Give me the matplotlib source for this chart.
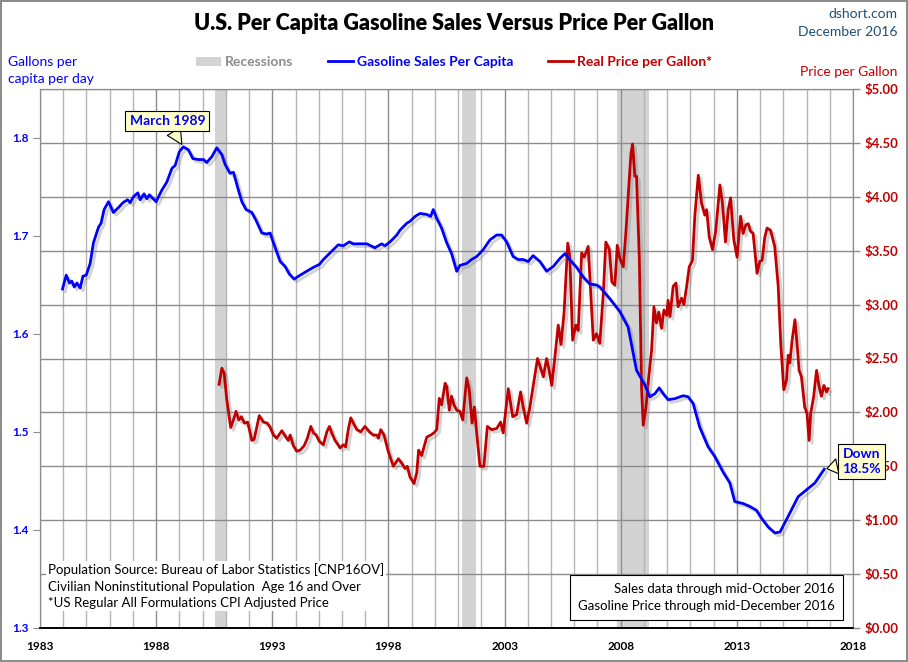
import matplotlib
matplotlib.use("Agg")
import matplotlib.pyplot as plt
import matplotlib.patheffects as pe
from matplotlib.ticker import MultipleLocator, FixedLocator, FuncFormatter

plt.rcParams['font.family'] = ['Lato', 'DejaVu Sans']

# gasoline sales per capita (gallons per day)
sales_years = [1983.97, 1984.13, 1984.27, 1984.37, 1984.48, 1984.59, 1984.73, 1984.85, 1984.99,
               1985.16, 1985.30, 1985.52, 1985.63, 1985.76, 1985.95, 1986.16, 1986.38, 1986.57,
               1986.77, 1986.88, 1987.02, 1987.21, 1987.31, 1987.48, 1987.60, 1987.71, 1988.00,
               1988.25, 1988.46, 1988.68, 1988.82, 1989.00, 1989.17, 1989.39, 1989.58, 1989.82,
               1990.04, 1990.18, 1990.40, 1990.61, 1990.83, 1990.97, 1991.18, 1991.33, 1991.54,
               1991.69, 1991.87, 1992.12, 1992.30, 1992.55, 1992.76, 1992.91, 1993.05, 1993.34,
               1993.55, 1993.74, 1993.94, 1994.20, 1994.48, 1994.77, 1995.03, 1995.20, 1995.63,
               1995.84, 1996.06, 1996.32, 1996.49, 1996.78, 1997.07, 1997.42, 1997.71, 1997.85,
               1998.07, 1998.36, 1998.50, 1998.79, 1998.93, 1999.15, 1999.36, 1999.65, 1999.82,
               1999.93, 2000.08, 2000.29, 2000.51, 2000.72, 2000.94, 2001.08, 2001.37, 2001.58,
               2001.80, 2002.08, 2002.37, 2002.66, 2002.87, 2003.09, 2003.37, 2003.59, 2003.80,
               2004.02, 2004.23, 2004.52, 2004.81, 2005.10, 2005.38, 2005.60, 2005.80, 2006.10,
               2006.39, 2006.67, 2006.96, 2007.10, 2007.53, 2007.96, 2008.32, 2008.68, 2009.04,
               2009.25, 2009.47, 2009.66, 2009.83, 2010.04, 2010.33, 2010.69, 2010.90, 2011.12,
               2011.40, 2011.76, 2012.05, 2012.41, 2012.70, 2012.91, 2013.27, 2013.56, 2013.85,
               2014.06, 2014.35, 2014.64, 2014.86, 2015.21, 2015.64, 2016.00, 2016.36, 2016.76]
sales = [1.646, 1.660, 1.652, 1.654, 1.648, 1.652, 1.647, 1.659, 1.660,
         1.672, 1.693, 1.709, 1.713, 1.727, 1.735, 1.724, 1.729, 1.734,
         1.737, 1.734, 1.740, 1.744, 1.737, 1.743, 1.738, 1.742, 1.735,
         1.747, 1.755, 1.769, 1.772, 1.786, 1.791, 1.788, 1.779, 1.778,
         1.778, 1.775, 1.781, 1.790, 1.783, 1.773, 1.764, 1.765, 1.747,
         1.735, 1.727, 1.724, 1.716, 1.703, 1.702, 1.703, 1.693, 1.674,
         1.669, 1.661, 1.656, 1.660, 1.664, 1.668, 1.671, 1.676, 1.686,
         1.691, 1.690, 1.694, 1.692, 1.692, 1.692, 1.688, 1.692, 1.690,
         1.694, 1.701, 1.706, 1.713, 1.715, 1.720, 1.723, 1.722, 1.720,
         1.727, 1.718, 1.708, 1.693, 1.682, 1.664, 1.670, 1.672, 1.676,
         1.679, 1.686, 1.696, 1.701, 1.701, 1.694, 1.679, 1.676, 1.676,
         1.674, 1.680, 1.674, 1.664, 1.669, 1.677, 1.682, 1.676, 1.668,
         1.658, 1.651, 1.650, 1.648, 1.636, 1.623, 1.607, 1.563, 1.548,
         1.536, 1.539, 1.545, 1.539, 1.533, 1.534, 1.537, 1.536, 1.529,
         1.505, 1.485, 1.475, 1.459, 1.448, 1.429, 1.427, 1.424, 1.420,
         1.412, 1.403, 1.397, 1.398, 1.414, 1.434, 1.441, 1.448, 1.462]

# real price per gallon ($)
price_years = [1990.71, 1990.83, 1990.93, 1991.04, 1991.21, 1991.33, 1991.44, 1991.56, 1991.67,
               1991.80, 1991.94, 1992.12, 1992.22, 1992.44, 1992.62, 1992.79, 1992.91, 1993.05,
               1993.19, 1993.41, 1993.59, 1993.69, 1993.77, 1993.91, 1994.05, 1994.20, 1994.37,
               1994.51, 1994.66, 1994.77, 1994.89, 1995.03, 1995.20, 1995.35, 1995.46, 1995.56,
               1995.70, 1995.80, 1995.92, 1996.06, 1996.16, 1996.27, 1996.38, 1996.49, 1996.64,
               1996.81, 1996.99, 1997.18, 1997.35, 1997.50, 1997.57, 1997.67, 1997.81, 1997.99,
               1998.21, 1998.43, 1998.57, 1998.71, 1998.81, 1998.93, 1999.10, 1999.22, 1999.30,
               1999.43, 1999.65, 1999.82, 1999.96, 2000.08, 2000.19, 2000.29, 2000.44, 2000.51,
               2000.62, 2000.72, 2000.82, 2000.94, 2001.08, 2001.20, 2001.37, 2001.48, 2001.60,
               2001.70, 2001.80, 2001.94, 2002.11, 2002.26, 2002.44, 2002.66, 2002.83, 2002.94,
               2003.16, 2003.35, 2003.52, 2003.69, 2003.81, 2003.95, 2004.09, 2004.23, 2004.42,
               2004.55, 2004.67, 2004.81, 2004.92, 2005.03, 2005.17, 2005.31, 2005.43, 2005.56,
               2005.72, 2005.81, 2005.93, 2006.07, 2006.17, 2006.32, 2006.43, 2006.60, 2006.70,
               2006.82, 2006.96, 2007.10, 2007.25, 2007.36, 2007.51, 2007.62, 2007.75, 2007.85,
               2007.96, 2008.11, 2008.22, 2008.32, 2008.44, 2008.51, 2008.61, 2008.68, 2008.80,
               2008.90, 2008.97, 2009.09, 2009.18, 2009.33, 2009.43, 2009.54, 2009.64, 2009.76,
               2009.86, 2009.98, 2010.04, 2010.12, 2010.26, 2010.38, 2010.47, 2010.62, 2010.72,
               2010.84, 2010.95, 2011.09, 2011.19, 2011.34, 2011.48, 2011.62, 2011.70, 2011.81,
               2011.95, 2012.09, 2012.27, 2012.38, 2012.51, 2012.63, 2012.73, 2012.87, 2013.01,
               2013.16, 2013.27, 2013.39, 2013.49, 2013.59, 2013.70, 2013.87, 2013.99, 2014.09,
               2014.20, 2014.30, 2014.45, 2014.63, 2014.78, 2014.89, 2015.02, 2015.14, 2015.21,
               2015.28, 2015.38, 2015.50, 2015.59, 2015.68, 2015.78, 2015.92, 2016.02, 2016.11,
               2016.18, 2016.31, 2016.43, 2016.54, 2016.64, 2016.75, 2016.86, 2016.93]
price = [2.26, 2.41, 2.36, 2.12, 1.86, 1.93, 2.01, 1.93, 1.96,
         1.90, 1.91, 1.74, 1.75, 1.97, 1.91, 1.90, 1.86, 1.79,
         1.76, 1.83, 1.77, 1.74, 1.79, 1.69, 1.64, 1.65, 1.69,
         1.76, 1.87, 1.81, 1.79, 1.73, 1.70, 1.82, 1.87, 1.81,
         1.74, 1.71, 1.67, 1.70, 1.68, 1.84, 1.95, 1.90, 1.84,
         1.82, 1.87, 1.82, 1.79, 1.79, 1.76, 1.84, 1.79, 1.64,
         1.50, 1.57, 1.53, 1.48, 1.50, 1.40, 1.34, 1.44, 1.65,
         1.60, 1.77, 1.79, 1.81, 1.84, 2.13, 2.07, 2.27, 2.24,
         2.02, 2.15, 2.07, 2.02, 2.01, 1.93, 2.32, 2.21, 1.90,
         2.05, 1.81, 1.50, 1.50, 1.87, 1.84, 1.85, 1.91, 1.81,
         2.22, 1.96, 1.98, 2.19, 2.04, 1.90, 2.05, 2.24, 2.50,
         2.41, 2.33, 2.50, 2.39, 2.25, 2.52, 2.81, 2.63, 2.92,
         3.57, 3.44, 2.67, 2.81, 2.76, 3.48, 3.44, 3.54, 3.14,
         2.67, 2.73, 2.64, 3.10, 3.58, 3.51, 3.21, 3.18, 3.55,
         3.43, 3.35, 3.66, 4.00, 4.40, 4.49, 4.19, 4.19, 3.44,
         2.21, 1.88, 2.05, 2.27, 2.58, 2.98, 2.83, 2.93, 2.78,
         2.95, 2.90, 3.04, 2.89, 3.17, 3.20, 2.98, 3.06, 3.00,
         3.17, 3.35, 3.41, 3.82, 4.20, 3.94, 3.83, 3.88, 3.63,
         3.51, 3.68, 4.11, 3.94, 3.58, 3.88, 3.99, 3.60, 3.44,
         3.82, 3.66, 3.74, 3.75, 3.68, 3.66, 3.29, 3.40, 3.41,
         3.62, 3.71, 3.69, 3.54, 3.17, 2.64, 2.21, 2.30, 2.53,
         2.46, 2.67, 2.86, 2.64, 2.39, 2.33, 2.05, 1.99, 1.74,
         1.99, 2.15, 2.39, 2.24, 2.15, 2.25, 2.19, 2.22]

recession_start = [1990.54, 2001.18, 2007.83]
recession_end = [1991.05, 2001.76, 2009.20]

year_ticks = [1983, 1988, 1993, 1998, 2003, 2008, 2013, 2018]

blue = '#0000FF'
red = '#C00000'
navy = '#1F4E79'

fig = plt.figure(figsize=(9.08, 6.62), dpi=100)
fig.patch.set_edgecolor('#8C8C8C')
fig.patch.set_linewidth(1.5)

ax2 = fig.add_axes([40 / 908, 1 - 628 / 662, 813 / 908, 539 / 662])
ax = ax2.twinx()
ax.set_zorder(ax2.get_zorder() + 1)
ax.patch.set_visible(False)

# price axis underneath: recessions, grid and red line
for s, e in zip(recession_start, recession_end):
    ax2.axvspan(s, e, color='#D3D3D3', lw=0, zorder=0.5)

ax2.set_xlim(1983, 2018)
ax2.set_ylim(0, 5)
ax2.xaxis.set_major_locator(FixedLocator(year_ticks))
ax2.xaxis.set_minor_locator(MultipleLocator(1))
ax2.yaxis.set_major_locator(MultipleLocator(0.5))
ax2.grid(which='minor', axis='x', color='#B4B4B4', lw=1, zorder=0.6)
ax2.grid(which='major', axis='x', color='#8C8C8C', lw=1, zorder=0.6)
ax2.grid(which='major', axis='y', color='#8C8C8C', lw=1, zorder=0.6)
ax2.set_axisbelow(True)

shadow = [pe.SimpleLineShadow(offset=(2, -2), shadow_color='#808080', alpha=0.35), pe.Normal()]
ax2.plot(price_years, price, color=red, lw=2, zorder=3, path_effects=shadow)

ax2.yaxis.tick_right()
ax2.yaxis.set_label_position('right')
ax2.yaxis.set_major_formatter(FuncFormatter(lambda v, p: '${:.2f}'.format(v)))
ax2.tick_params(axis='y', colors='#8C8C8C', labelcolor=red, labelsize=9.5, length=5, width=1, pad=3)
ax2.tick_params(axis='x', which='major', length=0, labelsize=8.5, pad=9)
ax2.tick_params(axis='x', which='minor', length=0)
for t in ax2.get_yticklabels() + ax2.get_xticklabels():
    t.set_fontweight('bold')

# sales axis on top: blue line
ax.plot(sales_years, sales, color=blue, lw=2, zorder=4, path_effects=shadow)
ax.set_ylim(1.3, 1.85)
ax.yaxis.set_major_locator(MultipleLocator(0.1))
ax.yaxis.tick_left()
ax.yaxis.set_major_formatter(FuncFormatter(lambda v, p: '{:.1f}'.format(v)))
ax.tick_params(axis='y', colors='#8C8C8C', labelcolor=blue, labelsize=8.5, length=5, pad=3)
for t in ax.get_yticklabels():
    t.set_fontweight('bold')

for a in (ax, ax2):
    for side in ['top', 'left', 'right']:
        a.spines[side].set_color('#8C8C8C')
    a.spines['bottom'].set_color('black')
    a.spines['bottom'].set_linewidth(1.2)

# callouts
callout_box = dict(boxstyle='square,pad=0.3', fc='#FFFFCC', ec='black', lw=0.8)
callout_arrow = dict(arrowstyle='wedge,tail_width=1.1', fc='#FFFFCC', ec='black', lw=0.8,
                     shrinkA=0, shrinkB=2)
peak = sales.index(max(sales))
ax.annotate('March 1989', xy=(sales_years[peak], sales[peak]), xytext=(-16, 26),
            textcoords='offset pixels', ha='center', va='center', color=blue,
            fontsize=10, fontweight='bold', bbox=callout_box, arrowprops=callout_arrow)
ax.annotate('Down\n18.5%', xy=(sales_years[-1], sales[-1]), xytext=(37, 8),
            textcoords='offset pixels', ha='center', va='center', color=blue,
            fontsize=10, fontweight='bold', linespacing=1.3, annotation_clip=False,
            bbox=callout_box, arrowprops=callout_arrow)

ax.text(0.01, 0.035, 'Population Source: Bureau of Labor Statistics [CNP16OV]\n'
        'Civilian Noninstitutional Population  Age 16 and Over\n'
        '*US Regular All Formulations CPI Adjusted Price',
        transform=ax.transAxes, ha='left', va='bottom', fontsize=9.5, linespacing=1.45,
        bbox=dict(boxstyle='square,pad=0.15', fc='white', ec='none'), zorder=6)
ax.text(0.978, 0.03, 'Sales data through mid-October 2016\nGasoline Price through mid-December 2016',
        transform=ax.transAxes, ha='right', va='bottom', fontsize=9.5, linespacing=1.5,
        bbox=dict(boxstyle='square,pad=0.6', fc='white', ec='black', lw=0.8), zorder=6)

# titles and axis names
fig.text(0.5, 0.964, 'U.S. Per Capita Gasoline Sales Versus Price Per Gallon',
         ha='center', va='center', fontsize=15.5, fontweight='heavy')
fig.text(0.988, 0.979, 'dshort.com', ha='right', va='center', fontsize=10, color=navy)
fig.text(0.988, 0.951, 'December 2016', ha='right', va='center', fontsize=10, color=navy)
fig.text(0.009, 0.893, 'Gallons per\ncapita per day', ha='left', va='center', fontsize=10,
         color=blue, linespacing=1.5)
fig.text(0.988, 0.891, 'Price per Gallon', ha='right', va='center', fontsize=10, color=red)

# legend
handles = [plt.Rectangle((0, 0), 1, 1, fc='#D3D3D3', ec='none'),
           plt.Line2D([], [], color=blue, lw=2),
           plt.Line2D([], [], color=red, lw=2)]
leg = fig.legend(handles, ['Recessions', 'Gasoline Sales Per Capita', 'Real Price per Gallon*'],
                 loc='center', bbox_to_anchor=(0.5, 0.906), ncol=3, frameon=False,
                 handlelength=1.8, handletextpad=0.3, columnspacing=2.5,
                 prop={'weight': 'bold', 'size': 10})
for t, c in zip(leg.get_texts(), ['#8C8C8C', blue, red]):
    t.set_color(c)

fig.savefig('out.png', dpi=100)
